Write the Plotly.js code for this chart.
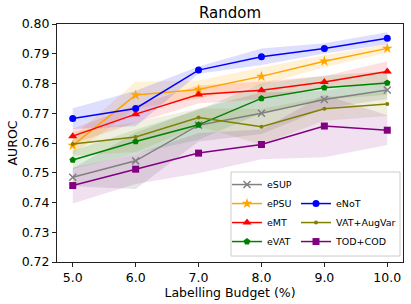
<!DOCTYPE html>
<html>
<head>
<meta charset="utf-8">
<script src="https://cdn.plot.ly/plotly-3.0.1.min.js"></script>
<style>html,body{margin:0;padding:0;background:#fff;}#chart{width:411px;height:304px;}</style>
</head>
<body>
<div id="chart"></div>
<script>
// Labelling budget (%)
var budgets = [5, 6, 7, 8, 9, 10];

// Mean AUROC per method
var eSUP      = [0.7485, 0.7540, 0.7660, 0.7700, 0.7746, 0.7778];
var ePSU      = [0.7592, 0.7761, 0.7780, 0.7824, 0.7875, 0.7918];
var eMT       = [0.7623, 0.7697, 0.7763, 0.7777, 0.7805, 0.7840];
var eVAT      = [0.7543, 0.7605, 0.7661, 0.7750, 0.7786, 0.7802];
var eNoT      = [0.7682, 0.7716, 0.7845, 0.7890, 0.7918, 0.7952];
var VATAugVar = [0.7597, 0.7620, 0.7686, 0.7655, 0.7715, 0.7731];
var TODCOD    = [0.7457, 0.7512, 0.7566, 0.7595, 0.7657, 0.7643];

// Standard deviation (shaded bands)
var eSUP_sd      = [0.0030, 0.0095, 0.0055, 0.0070, 0.0030, 0.0030];
var ePSU_sd      = [0.0030, 0.0045, 0.0030, 0.0030, 0.0020, 0.0015];
var eMT_sd       = [0.0025, 0.0030, 0.0030, 0.0030, 0.0020, 0.0035];
var eVAT_sd      = [0.0030, 0.0040, 0.0050, 0.0050, 0.0040, 0.0040];
var eNoT_sd      = [0.0035, 0.0060, 0.0012, 0.0028, 0.0017, 0.0020];
var VATAugVar_sd = [0.0040, 0.0050, 0.0030, 0.0060, 0.0040, 0.0040];
var TODCOD_sd    = [0.0060, 0.0050, 0.0068, 0.0050, 0.0105, 0.0050];

var xTickLabels = ['5.0', '6.0', '7.0', '8.0', '9.0', '10.0'];
var yTickVals = [0.72, 0.73, 0.74, 0.75, 0.76, 0.77, 0.78, 0.79, 0.80];
var yTickLabels = ['0.72', '0.73', '0.74', '0.75', '0.76', '0.77', '0.78', '0.79', '0.80'];

var series = [
  {name: 'eSUP', y: eSUP, sd: eSUP_sd, color: '#808080', fill: 'rgba(128,128,128,0.2)', symbol: 'x-thin-open', size: 7, legend: 'legend'},
  {name: 'ePSU', y: ePSU, sd: ePSU_sd, color: '#FFA500', fill: 'rgba(255,165,0,0.16)', symbol: 'star', size: 8, legend: 'legend'},
  {name: 'eMT', y: eMT, sd: eMT_sd, color: '#FF0000', fill: 'rgba(255,0,0,0.12)', symbol: 'triangle-up', size: 8, legend: 'legend'},
  {name: 'eVAT', y: eVAT, sd: eVAT_sd, color: '#008000', fill: 'rgba(0,128,0,0.12)', symbol: 'pentagon', size: 7, legend: 'legend'},
  {name: 'eNoT', y: eNoT, sd: eNoT_sd, color: '#0000FF', fill: 'rgba(0,0,255,0.13)', symbol: 'circle', size: 7, legend: 'legend2'},
  {name: 'VAT+AugVar', y: VATAugVar, sd: VATAugVar_sd, color: '#808000', fill: 'rgba(128,128,0,0.12)', symbol: 'circle', size: 4, legend: 'legend2'},
  {name: 'TOD+COD', y: TODCOD, sd: TODCOD_sd, color: '#800080', fill: 'rgba(128,0,128,0.12)', symbol: 'square', size: 7, legend: 'legend2'}
];

var traces = [];
series.forEach(function (s) {
  var up = s.y.map(function (v, i) { return v + s.sd[i]; });
  var lo = s.y.map(function (v, i) { return v - s.sd[i]; });
  traces.push({
    x: budgets.concat(budgets.slice().reverse()),
    y: up.concat(lo.slice().reverse()),
    type: 'scatter', mode: 'lines', fill: 'toself',
    fillcolor: s.fill, line: {width: 0, color: s.fill},
    hoverinfo: 'skip', showlegend: false
  });
});
series.forEach(function (s) {
  var mk = {symbol: s.symbol, size: s.size, color: s.color};
  if (s.symbol === 'x-thin-open') { mk.line = {color: s.color, width: 1.5}; }
  traces.push({
    x: budgets, y: s.y, name: s.name, legend: s.legend,
    type: 'scatter', mode: 'lines+markers',
    line: {color: s.color, width: 1.5},
    marker: mk
  });
});

var font = 'DejaVu Sans, sans-serif';
var legFont = {size: 9.5, family: font, color: '#000'};
var layout = {
  width: 411, height: 304,
  margin: {l: 57, r: 8, t: 24, b: 42},
  paper_bgcolor: '#fff', plot_bgcolor: '#fff',
  font: {family: font, color: '#000'},
  title: {text: 'Random', font: {size: 15, family: font, color: '#000'},
          x: 0.5, xref: 'paper', y: 1 - 13 / 304, yref: 'container', yanchor: 'middle'},
  xaxis: {
    range: [4.75, 10.25], tickvals: budgets, ticktext: xTickLabels,
    showgrid: false, zeroline: false, showline: true, mirror: true,
    linecolor: '#222', linewidth: 1, ticks: 'outside', ticklen: 4, tickcolor: '#222',
    tickfont: {size: 12.5, family: font, color: '#000'},
    title: {text: 'Labelling Budget (%)', font: {size: 12.5, family: font, color: '#000'}, standoff: 3}
  },
  yaxis: {
    range: [0.72, 0.80], tickvals: yTickVals, ticktext: yTickLabels,
    showgrid: false, zeroline: false, showline: true, mirror: true,
    linecolor: '#222', linewidth: 1, ticks: 'outside', ticklen: 4, tickcolor: '#222',
    tickfont: {size: 12.5, family: font, color: '#000'},
    title: {text: 'AUROC', font: {size: 12.5, family: font, color: '#000'}, standoff: 1}
  },
  showlegend: true,
  legend: {x: (227 - 57) / 346, xanchor: 'left', y: 0.025, yanchor: 'bottom',
           bgcolor: 'rgba(0,0,0,0)', borderwidth: 0, font: legFont,
           itemwidth: 30, tracegroupgap: 0},
  legend2: {x: (296 - 57) / 346, xanchor: 'left', y: 0.025, yanchor: 'bottom',
           bgcolor: 'rgba(0,0,0,0)', borderwidth: 0, font: legFont,
           itemwidth: 30, tracegroupgap: 0},
  shapes: [{type: 'rect', xref: 'paper', yref: 'paper', layer: 'above',
            x0: (231 - 57) / 346, x1: (400 - 57) / 346, y0: 6 / 238, y1: 90 / 238,
            line: {color: '#cccccc', width: 1}, fillcolor: 'rgba(255,255,255,0.85)'}]
};

Plotly.newPlot('chart', traces, layout, {displayModeBar: false, staticPlot: true});
</script>
</body>
</html>
